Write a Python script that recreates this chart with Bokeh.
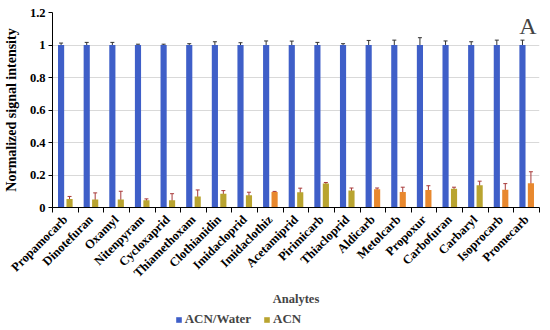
import numpy as np
from bokeh.plotting import figure
from bokeh.layouts import column
from bokeh.models import (ColumnDataSource, Whisker, Legend, LegendItem, FixedTicker,
                          CustomJSTickFormatter, Label, Range1d)
from bokeh.embed import file_html
from bokeh.resources import INLINE

# ---------------- data ----------------
analytes = ["Propamocarb", "Dinotefuran", "Oxamyl", "Nitenpyram", "Cycloxaprid",
            "Thiamethoxam", "Clothianidin", "Imidacloprid", "Imidaclothiz", "Acetamiprid",
            "Pirimicarb", "Thiacloprid", "Aldicarb", "Metolcarb", "Propoxur",
            "Carbofuran", "Carbaryl", "Isoprocarb", "Promecarb"]
acn_water = [1.0, 1.0, 1.0, 1.0, 1.0, 1.0, 1.0, 1.0, 1.0, 1.0,
             1.0, 1.0, 1.0, 1.0, 1.0, 1.0, 1.0, 1.0, 1.0]
acn_water_err = [0.012, 0.016, 0.016, 0.005, 0.005, 0.008, 0.02, 0.014, 0.025, 0.024,
                 0.016, 0.008, 0.028, 0.03, 0.045, 0.025, 0.02, 0.03, 0.03]
acn = [0.053, 0.05, 0.05, 0.045, 0.045, 0.068, 0.084, 0.076, 0.096, 0.094,
       0.148, 0.104, 0.112, 0.095, 0.108, 0.115, 0.137, 0.11, 0.15]
acn_err = [0.015, 0.04, 0.05, 0.008, 0.04, 0.04, 0.02, 0.018, 0.003, 0.025,
           0.006, 0.016, 0.008, 0.03, 0.026, 0.01, 0.025, 0.037, 0.07]
y_ticks = [0, 0.2, 0.4, 0.6, 0.8, 1.0, 1.2]

# ---------------- styles ----------------
BLUE = "#3f5fc8"
OLIVE = "#b9a430"
ORANGE = "#e8882e"
acn_colors = [OLIVE, OLIVE, OLIVE, OLIVE, OLIVE, OLIVE, OLIVE, OLIVE, ORANGE, OLIVE,
              OLIVE, OLIVE, ORANGE, ORANGE, ORANGE, OLIVE, OLIVE, ORANGE, ORANGE]
FONT = "Liberation Serif"

n = len(analytes)
idx = np.arange(n)
centers = idx + 0.5
off = 0.165
bw = 0.24

src_w = ColumnDataSource(dict(x=centers - off, top=acn_water,
                              lo=np.array(acn_water) - np.array(acn_water_err),
                              hi=np.array(acn_water) + np.array(acn_water_err)))
src_a = ColumnDataSource(dict(x=centers + off, top=acn, color=acn_colors,
                              lo=np.array(acn) - np.array(acn_err),
                              hi=np.array(acn) + np.array(acn_err)))

p = figure(frame_width=487, frame_height=195, output_backend="svg", toolbar_location=None,
           x_range=Range1d(0, n), y_range=Range1d(0, 1.2),
           min_border_left=48, min_border_top=12, min_border_right=2, min_border_bottom=0)
p.outline_line_color = None
p.background_fill_color = "white"

rw = p.vbar(x="x", top="top", width=bw, source=src_w, fill_color=BLUE, line_color=None)
ra = p.vbar(x="x", top="top", width=bw, source=src_a, fill_color="color", line_color=None)

ww = Whisker(base="x", lower="lo", upper="hi", source=src_w,
             line_color="#333333", line_width=1)
ww.upper_head.size = 4
ww.upper_head.line_color = "#333333"
ww.lower_head.size = 4
ww.lower_head.line_color = "#333333"
p.add_layout(ww)
wa = Whisker(base="x", lower="lo", upper="hi", source=src_a,
             line_color="#a83a3a", line_width=1)
wa.upper_head.size = 4
wa.upper_head.line_color = "#a83a3a"
wa.lower_head.size = 4
wa.lower_head.line_color = "#a83a3a"
p.add_layout(wa)

# axes
p.xgrid.visible = False
p.ygrid.ticker = FixedTicker(ticks=y_ticks)
p.ygrid.grid_line_color = "#d9d9d9"

p.yaxis.ticker = FixedTicker(ticks=y_ticks)
p.yaxis.formatter = CustomJSTickFormatter(code="return String(Math.round(tick*10)/10);")
p.yaxis.axis_line_color = "black"
p.yaxis.major_tick_line_color = "black"
p.yaxis.major_tick_out = 4
p.yaxis.major_tick_in = 0
p.yaxis.minor_tick_line_color = None
p.yaxis.major_label_text_font = FONT
p.yaxis.major_label_text_font_style = "bold"
p.yaxis.major_label_text_font_size = "12.5px"
p.yaxis.major_label_text_color = "black"
p.yaxis.major_label_standoff = 3
p.yaxis.axis_label = "Normalized signal intensity"
p.yaxis.axis_label_text_font = FONT
p.yaxis.axis_label_text_font_style = "bold"
p.yaxis.axis_label_text_font_size = "14px"
p.yaxis.axis_label_text_color = "black"
p.yaxis.axis_label_standoff = 8

p.xaxis.ticker = FixedTicker(ticks=list(centers), minor_ticks=list(np.arange(n + 1)))
p.xaxis.formatter = CustomJSTickFormatter(args=dict(names=analytes),
                                          code="return names[Math.floor(tick)];")
p.xaxis.axis_line_color = "black"
p.xaxis.major_tick_line_color = None
p.xaxis.minor_tick_line_color = "black"
p.xaxis.minor_tick_out = 5
p.xaxis.minor_tick_in = 0
p.xaxis.major_label_orientation = np.pi / 4
p.xaxis.major_label_text_font = FONT
p.xaxis.major_label_text_font_style = "bold"
p.xaxis.major_label_text_font_size = "12.5px"
p.xaxis.major_label_text_color = "black"
p.xaxis.major_label_standoff = 4

p.add_layout(Label(x=18.55, y=1.12, text="A", text_font=FONT,
                   text_font_size="24px", text_align="center", text_baseline="middle"))

# ---- lower strip: axis title and legend ----
p2 = figure(frame_width=487, frame_height=42, output_backend="svg", toolbar_location=None,
            x_range=Range1d(0, n), y_range=Range1d(0, 42),
            min_border_left=48, min_border_top=0, min_border_right=2, min_border_bottom=0)
p2.outline_line_color = None
p2.axis.visible = False
p2.grid.visible = False
# legend proxies (drawn far outside the visible y range)
lw = p2.vbar(x="x", top="top", bottom=-10, width=bw, source=src_w, fill_color=BLUE,
             line_color=None)
la = p2.vbar(x="x", top="top", bottom=-10, width=bw, source=src_a, fill_color="color",
             line_color=None)
lw.glyph.top = -9
la.glyph.top = -9

p2.add_layout(Label(x=n / 2, y=31, text="Analytes", text_font=FONT,
                    text_font_style="bold", text_font_size="12.5px",
                    text_align="center", text_baseline="middle"))

legend = Legend(items=[LegendItem(label="ACN/Water", renderers=[lw]),
                       LegendItem(label="ACN", renderers=[la], index=0)],
                orientation="horizontal", location=(158, 2),
                label_text_font=FONT, label_text_font_style="bold",
                label_text_font_size="13px", glyph_width=7, glyph_height=7,
                label_height=12, label_standoff=3, spacing=12, padding=0, margin=0,
                border_line_color=None, background_fill_alpha=0)
p2.add_layout(legend)

open("out.html", "w").write(file_html(column(p, p2, spacing=0), INLINE))
